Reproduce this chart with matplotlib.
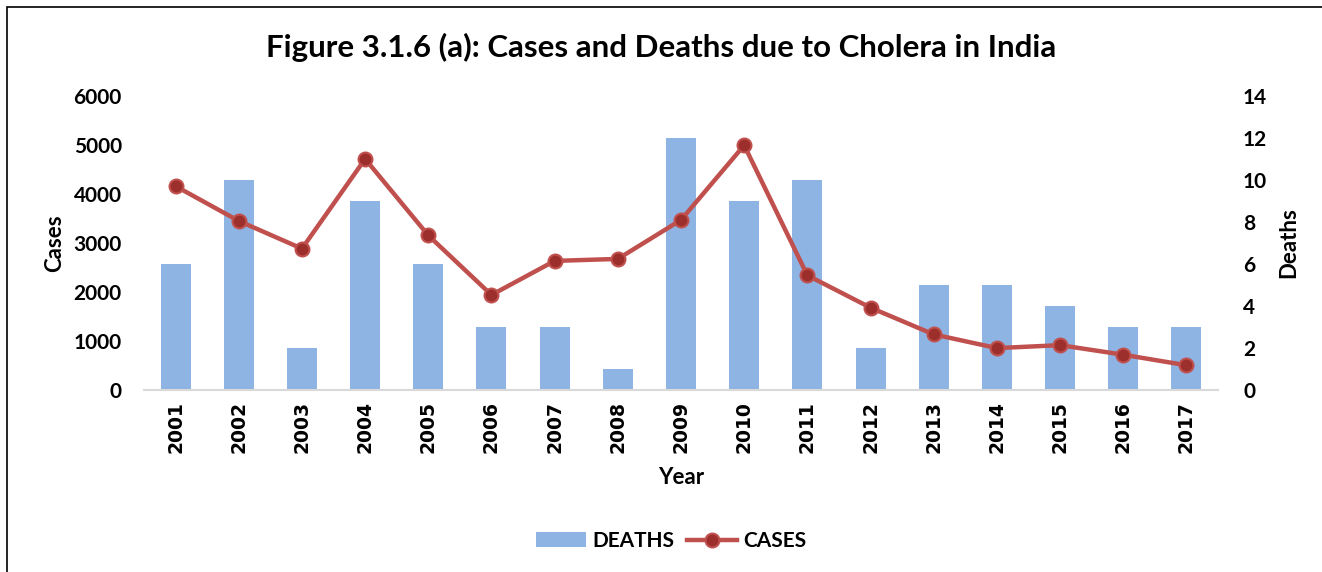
import matplotlib
matplotlib.use("Agg")
import matplotlib.pyplot as plt
from matplotlib.patches import Rectangle
import numpy as np

years = ["2001", "2002", "2003", "2004", "2005", "2006", "2007", "2008", "2009",
         "2010", "2011", "2012", "2013", "2014", "2015", "2016", "2017"]
deaths = [6, 10, 2, 9, 6, 3, 3, 1, 12, 9, 10, 2, 5, 5, 4, 3, 3]
cases = [4160, 3450, 2885, 4715, 3155, 1940, 2635, 2675, 3470, 4995, 2340,
         1680, 1135, 855, 915, 720, 505]

plt.rcParams['font.family'] = ['Lato', 'DejaVu Sans']

W, H = 1322, 572
fig = plt.figure(figsize=(W / 100, H / 100), dpi=100)
ax = fig.add_axes([144 / W, 1 - 390 / H, (1218 - 144) / W, (390 - 96) / H])
ax2 = ax.twinx()

x = np.arange(len(years))
bars = ax2.bar(x, deaths, width=0.475, color='#8EB4E3', zorder=1, label='DEATHS')
ax.set_zorder(ax2.get_zorder() + 1)
ax.patch.set_visible(False)
line, = ax.plot(x, cases, color='#C0504D', lw=3.2, marker='o', markersize=10,
                markerfacecolor='#9C2F2C', markeredgecolor='#C0504D', markeredgewidth=1.5,
                label='CASES', zorder=3)

ax.set_xlim(-0.5, len(years) - 0.5)
ax.set_ylim(0, 6000)
ax2.set_ylim(0, 14)
ax.set_yticks(range(0, 6001, 1000))
ax2.set_yticks(range(0, 15, 2))
ax.set_xticks(x)
ax.set_xticklabels(years, rotation=90, fontfamily='DejaVu Sans', fontweight='bold', fontsize=13.5)

for a in (ax, ax2):
    for s in a.spines.values():
        s.set_visible(False)
    a.tick_params(length=0)
ax.spines['bottom'].set_visible(True)
ax.spines['bottom'].set_color('#D9D9D9')
ax.spines['bottom'].set_linewidth(1.5)

for lab in ax.get_yticklabels():
    lab.set_fontweight('bold'); lab.set_fontsize(15)
for lab in ax2.get_yticklabels():
    lab.set_fontweight('bold'); lab.set_fontsize(15)
ax.tick_params(axis='y', pad=16)
ax2.tick_params(axis='y', pad=18)
ax.tick_params(axis='x', pad=8)

ax.set_ylabel('Cases', fontsize=16, fontweight='bold', labelpad=6)
ax2.set_ylabel('Deaths', fontsize=16, fontweight='bold', labelpad=8)
ax.set_xlabel('Year', fontsize=16, fontweight='bold', labelpad=10)

fig.text(0.5, 1 - 47 / H, 'Figure 3.1.6 (a): Cases and Deaths due to Cholera in India',
         ha='center', va='center', fontsize=22.5, fontweight='bold')

fig.legend([bars, line], ['DEATHS', 'CASES'], loc='center', bbox_to_anchor=(671 / W, 1 - 541 / H),
           ncol=2, frameon=False, prop={'weight': 'bold', 'size': 15},
           handlelength=2.4, handletextpad=0.3, columnspacing=0.6)

fig.add_artist(Rectangle((7 / W, -0.05), 1.1, 1.05 - 7 / H,
                         transform=fig.transFigure, fill=False, edgecolor='black', lw=1.2))

fig.savefig('out.png', dpi=100)
